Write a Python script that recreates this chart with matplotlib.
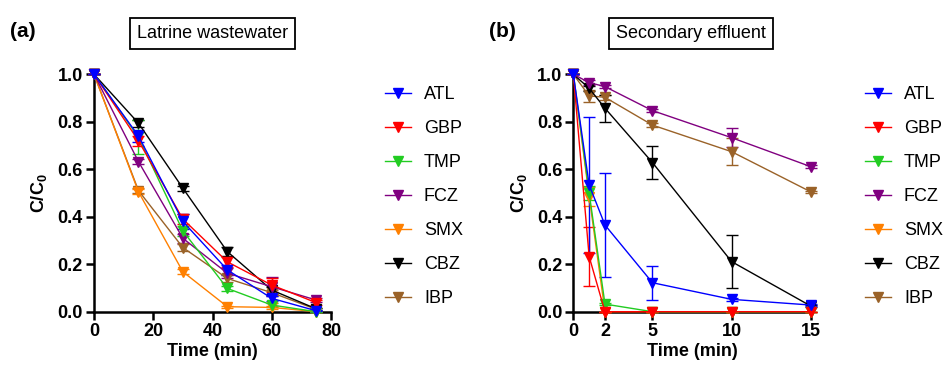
import matplotlib
matplotlib.use("Agg")
import matplotlib.pyplot as plt
from matplotlib.lines import Line2D

plt.rcParams['font.family'] = ['Liberation Sans', 'DejaVu Sans']
plt.rcParams['mathtext.fontset'] = 'custom'
plt.rcParams['mathtext.rm'] = 'Liberation Sans'
plt.rcParams['mathtext.bf'] = 'Liberation Sans:bold'

compounds = ['ATL', 'GBP', 'TMP', 'FCZ', 'SMX', 'CBZ', 'IBP']
colors = ['#0000ff', '#ff0000', '#22cc22', '#800080', '#ff8000', '#000000', '#9a6228']

# Latrine wastewater
time_a = [0, 15, 30, 45, 60, 75]
mean_a = {
    'ATL': [1.0, 0.74, 0.38, 0.176, 0.056, 0.004],
    'GBP': [1.0, 0.72, 0.39, 0.21, 0.112, 0.038],
    'TMP': [1.0, 0.735, 0.34, 0.098, 0.028, 0.0],
    'FCZ': [1.0, 0.632, 0.309, 0.162, 0.105, 0.049],
    'SMX': [1.0, 0.505, 0.168, 0.021, 0.018, 0.0],
    'CBZ': [1.0, 0.794, 0.52, 0.253, 0.091, 0.012],
    'IBP': [1.0, 0.51, 0.27, 0.14, 0.08, 0.01],
}
err_a = {
    'ATL': [0.0, 0.025, 0.03, 0.02, 0.01, 0.003],
    'GBP': [0.0, 0.02, 0.02, 0.02, 0.03, 0.01],
    'TMP': [0.0, 0.072, 0.02, 0.01, 0.01, 0.0],
    'FCZ': [0.0, 0.01, 0.02, 0.02, 0.04, 0.01],
    'SMX': [0.0, 0.01, 0.01, 0.005, 0.005, 0.0],
    'CBZ': [0.0, 0.015, 0.01, 0.02, 0.015, 0.005],
    'IBP': [0.0, 0.01, 0.015, 0.015, 0.01, 0.005],
}

# Secondary effluent
time_b = [0, 1, 2, 5, 10, 15]
mean_b = {
    'ATL': [1.0, 0.534, 0.365, 0.122, 0.052, 0.028],
    'GBP': [1.0, 0.232, 0.0, 0.0, 0.0, 0.0],
    'TMP': [1.0, 0.50, 0.032, 0.0, 0.0, 0.0],
    'FCZ': [1.0, 0.965, 0.948, 0.847, 0.733, 0.611],
    'SMX': [1.0, 0.485, 0.0, 0.0, 0.0, 0.0],
    'CBZ': [1.0, 0.941, 0.857, 0.628, 0.211, 0.024],
    'IBP': [1.0, 0.909, 0.903, 0.786, 0.674, 0.505],
}
err_b = {
    'ATL': [0.0, 0.285, 0.218, 0.072, 0.005, 0.003],
    'GBP': [0.0, 0.124, 0.0, 0.0, 0.0, 0.0],
    'TMP': [0.0, 0.03, 0.005, 0.0, 0.0, 0.0],
    'FCZ': [0.0, 0.01, 0.005, 0.005, 0.039, 0.005],
    'SMX': [0.0, 0.04, 0.0, 0.0, 0.0, 0.0],
    'CBZ': [0.0, 0.01, 0.057, 0.07, 0.113, 0.005],
    'IBP': [0.0, 0.025, 0.01, 0.01, 0.056, 0.005],
}

fig = plt.figure(figsize=(9.45, 3.74), dpi=100)
ax_a = fig.add_axes([0.0995, 0.1666, 0.2508, 0.6348])
ax_b = fig.add_axes([0.6067, 0.1666, 0.2512, 0.6348])


def draw_panel(ax, t, means, errs, xlim, xticks):
    for name, col in reversed(list(zip(compounds, colors))):
        ax.errorbar(t, means[name], yerr=errs[name], color=col, lw=1.0,
                    marker='v', markersize=7, capsize=4, capthick=1.0,
                    elinewidth=1.0, clip_on=False, zorder=3)
    ax.set_xlim(*xlim)
    ax.set_ylim(0, 1.0)
    ax.set_xticks(xticks)
    ax.set_yticks([0.0, 0.2, 0.4, 0.6, 0.8, 1.0])
    ax.set_yticklabels(['0.0', '0.2', '0.4', '0.6', '0.8', '1.0'])
    for s in ['top', 'right']:
        ax.spines[s].set_visible(False)
    for s in ['left', 'bottom']:
        ax.spines[s].set_linewidth(1.8)
    ax.tick_params(axis='both', direction='out', length=6, width=1.8,
                   labelsize=13, pad=2)
    for lab in ax.get_xticklabels() + ax.get_yticklabels():
        lab.set_fontweight('bold')
    ax.set_xlabel('Time (min)', fontsize=13, fontweight='bold', labelpad=2)
    ax.set_ylabel(r'$\mathbf{C/C_0}$', fontsize=13, labelpad=6)


draw_panel(ax_a, time_a, mean_a, err_a, (0, 80), [0, 20, 40, 60, 80])
draw_panel(ax_b, time_b, mean_b, err_b, (0, 15), [0, 2, 5, 10, 15])

handles = [Line2D([], [], color=c, lw=1.0, marker='v', markersize=7)
           for c in colors]
for x0 in (0.4074, 0.9153):
    fig.legend(handles, compounds, loc='upper left',
               bbox_to_anchor=(x0, 0.770), frameon=False, fontsize=13,
               handlelength=1.44, handletextpad=0.72, labelspacing=0.94,
               borderpad=0, borderaxespad=0)

fig.text(0.011, 0.917, '(a)', fontsize=15, fontweight='bold', va='center')
fig.text(0.517, 0.917, '(b)', fontsize=15, fontweight='bold', va='center')
box = dict(boxstyle='square,pad=0.4', fc='white', ec='black', lw=1.3)
fig.text(0.2249, 0.910, 'Latrine wastewater', fontsize=13, ha='center',
         va='center', bbox=box)
fig.text(0.731, 0.910, 'Secondary effluent', fontsize=13, ha='center',
         va='center', bbox=box)

fig.savefig('out.png', dpi=100)
